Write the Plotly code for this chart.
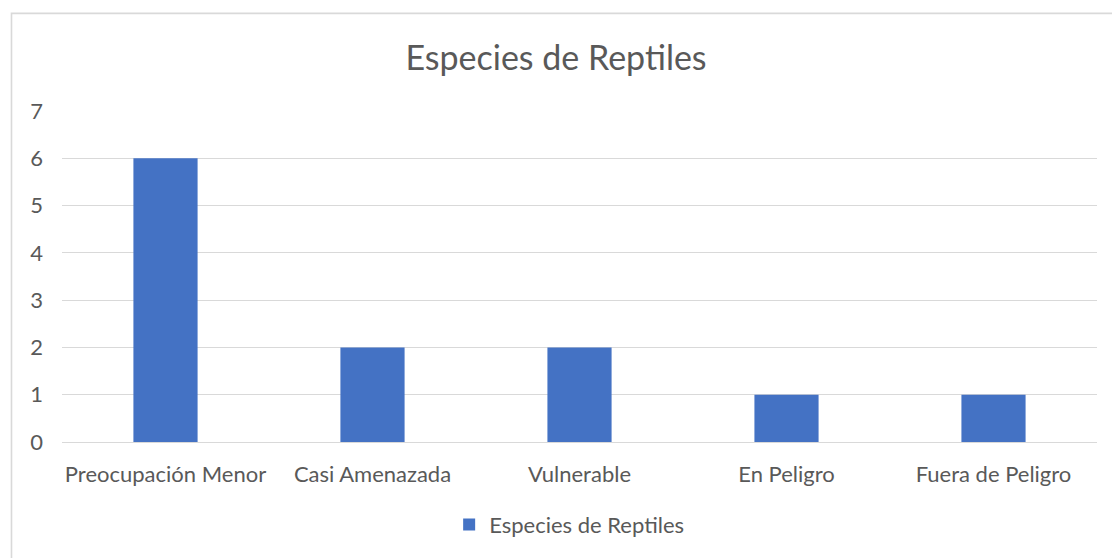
import plotly.graph_objects as go

categorias = ["Preocupación Menor", "Casi Amenazada", "Vulnerable", "En Peligro", "Fuera de Peligro"]
especies = [6, 2, 2, 1, 1]

texto = "#595959"
rejilla = "#d9d9d9"
fuente = "Lato, 'Open Sans', sans-serif"

fig = go.Figure()
fig.add_trace(go.Bar(x=categorias, y=especies, name="Especies de Reptiles",
                     marker_color="#4472c4", marker_line_width=0))

fig.update_layout(
    width=1112, height=558,
    margin=dict(l=62, r=15, t=111, b=112),
    paper_bgcolor="white", plot_bgcolor="white",
    font=dict(family=fuente, color=texto, size=22),
    title=dict(text="Especies de Reptiles", x=0.5, xanchor="center",
               y=1 - 58 / 558, yanchor="middle", font=dict(size=34, color=texto)),
    bargap=0.69,
    showlegend=True,
    legend=dict(orientation="h", x=0.49, xanchor="center", y=-0.25, yanchor="middle",
                itemwidth=30, font=dict(size=22, color=texto)),
)
fig.update_yaxes(range=[0, 7], dtick=1, showgrid=True, gridcolor=rejilla, gridwidth=1.3,
                 zeroline=True, zerolinecolor=rejilla, zerolinewidth=1.3,
                 ticks="", ticklabelstandoff=18, fixedrange=True)
fig.update_xaxes(showline=False, ticks="", ticklabelstandoff=17)

# borde del area del grafico
fig.add_shape(type="rect", xref="paper", yref="paper",
              x0=-0.0488, x1=1.2, y0=-0.6, y1=1.295,
              line=dict(color=rejilla, width=1.6), layer="below")

# quitar el margen del body para que el grafico empiece en (0, 0)
fig.write_html("out.html", config={"displayModeBar": False},
               post_script="document.body.style.margin='0';")
